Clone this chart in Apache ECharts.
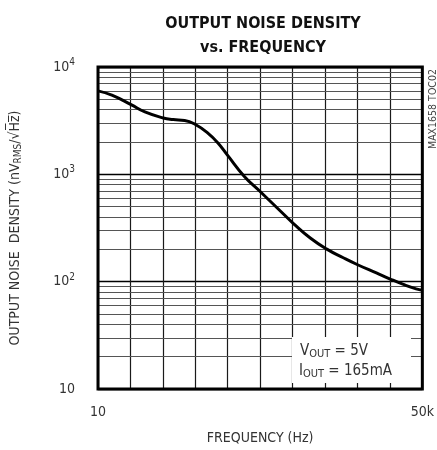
<!DOCTYPE html>
<html>
<head>
<meta charset="utf-8">
<script src="https://cdn.jsdelivr.net/npm/echarts@6/dist/echarts.min.js"></script>
<style>
html,body{margin:0;padding:0;background:#fff;}
#main{width:437px;height:450px;}
</style>
</head>
<body>
<div id="main"></div>
<script>
// ---- data ----
var freqHz = [10, 14.4, 23.8, 34.3, 55.4, 72, 97.2, 132, 179, 232, 301, 464, 716, 1107, 1706, 2636, 4070, 6270, 9270, 14960, 21180, 29920, 42460, 50000];
var noiseDensity = [5990, 5460, 4460, 3810, 3350, 3240, 3180, 2880, 2420, 1970, 1500, 962, 684, 486, 346, 255, 201, 167, 143, 120.5, 106.4, 94.8, 85.6, 83];
var xTickLabels = ['10', '', '', '', '', '', '', '', '', '', '50k'];
var yTickValues = [10, 100, 1000, 10000];
var yTickExponents = ['', '2', '3', '4'];
var yMinorGrid = [20, 30, 40, 50, 60, 70, 80, 90, 200, 300, 400, 500, 600, 700, 800, 900, 2000, 3000, 4000, 5000, 6000, 7000, 8000, 9000];

var FONT = "'Liberation Sans Narrow','DejaVu Sans Condensed','Arial Narrow',sans-serif";
var TXT = '#333';

var seriesData = freqHz.map(function (f, i) { return [f, noiseDensity[i]]; });

var chart = echarts.init(document.getElementById('main'), null, {renderer: 'canvas'});
chart.setOption({
  animation: false,
  backgroundColor: '#fff',
  title: {
    text: 'OUTPUT NOISE DENSITY\nvs. FREQUENCY',
    left: 258, top: 7, textAlign: 'center',
    textStyle: {fontFamily: FONT, fontWeight: 'bold', fontSize: 16, lineHeight: 24, color: '#111'}
  },
  grid: {left: 96, right: 14, top: 67, bottom: 57, show: true, borderColor: '#000', borderWidth: 3, backgroundColor: 'transparent', z: 10},
  xAxis: [
    {
      type: 'category', data: xTickLabels, boundaryGap: false,
      axisLine: {show: false}, axisTick: {show: false},
      axisLabel: {interval: 0, margin: 16, fontFamily: FONT, fontSize: 14, color: TXT, showMinLabel: true, showMaxLabel: true},
      splitLine: {show: true, interval: 0, lineStyle: {color: '#1a1a1a', width: 1.2}},
      name: 'FREQUENCY (Hz)', nameLocation: 'middle', nameGap: 42,
      nameTextStyle: {fontFamily: FONT, fontSize: 14, color: TXT}
    },
    {type: 'log', logBase: 10, min: 10, max: 50000, show: false, splitLine: {show: false}}
  ],
  yAxis: {
    type: 'log', logBase: 10, min: 10, max: 10000,
    axisLine: {show: false}, axisTick: {show: false},
    splitLine: {show: true, lineStyle: {color: '#000', width: 1.3}},
    axisLabel: {
      margin: 23, fontFamily: FONT, color: TXT,
      formatter: function (v) {
        var i = yTickValues.indexOf(Math.round(v));
        var e = i >= 0 ? yTickExponents[i] : '';
        return e ? '{b|10}{s|' + e + '}' : '{b|10}';
      },
      rich: {
        b: {fontFamily: FONT, fontSize: 14, color: TXT},
        s: {fontFamily: FONT, fontSize: 10, color: TXT, padding: [0, 0, 9, 0]}
      }
    },
    name: '{n|OUTPUT NOISE  DENSITY (nV}{sub|RMS}{n|/√H̅z̅)}',
    nameLocation: 'middle', nameGap: 75, nameRotate: 90,
    nameTextStyle: {
      fontFamily: FONT, color: TXT,
      rich: {
        n: {fontFamily: FONT, fontSize: 14, color: TXT},
        sub: {fontFamily: FONT, fontSize: 10, color: TXT, padding: [6, 0, 0, 0]}
      }
    }
  },
  series: [{
    type: 'line', xAxisIndex: 1, data: seriesData, smooth: 0.5, showSymbol: false,
    lineStyle: {color: '#000', width: 3}, z: 5,
    markLine: {
      silent: true, symbol: ['none', 'none'], label: {show: false},
      lineStyle: {color: '#555', width: 1, type: 'solid'},
      data: yMinorGrid.map(function (v) { return {yAxis: v}; }),
      z: 1
    }
  }],
  graphic: [
    {type: 'rect', z: 50, shape: {x: 292, y: 337, width: 119, height: 46}, style: {fill: '#fff'}},
    {type: 'text', z: 51, left: 300, top: 344, style: {
      rich: {n: {fontFamily: FONT, fontSize: 15, fill: TXT}, sub: {fontFamily: FONT, fontSize: 11, fill: TXT, padding: [5, 0, 0, 0]}},
      text: '{n|V}{sub|OUT}{n| = 5V}'
    }},
    {type: 'text', z: 51, left: 299, top: 364, style: {
      rich: {n: {fontFamily: FONT, fontSize: 15, fill: TXT}, sub: {fontFamily: FONT, fontSize: 11, fill: TXT, padding: [5, 0, 0, 0]}},
      text: '{n|I}{sub|OUT}{n| = 165mA}'
    }},
    {type: 'text', z: 51, x: 428, y: 149, rotation: Math.PI / 2, style: {
      text: 'MAX1658 TOC02', fontFamily: FONT, fontSize: 10.5, fill: '#444'
    }}
  ]
});
</script>
</body>
</html>
